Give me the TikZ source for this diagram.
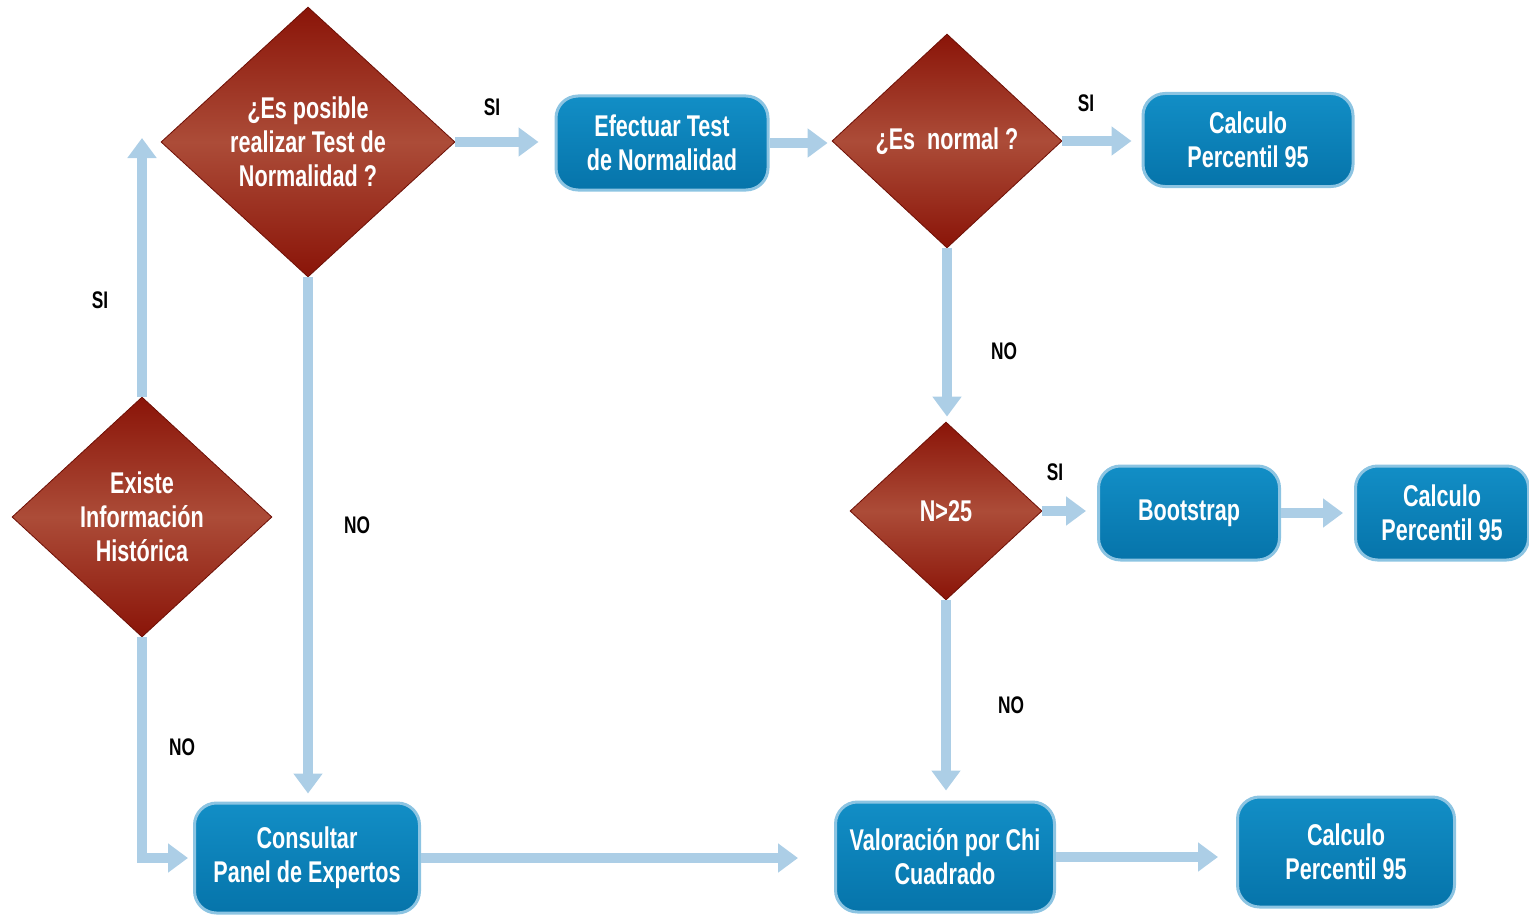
\documentclass[tikz,border=0pt]{standalone}
\usepackage{fontspec}
\setmainfont{Liberation Sans}[FakeStretch=0.72]
\usetikzlibrary{shapes.geometric,arrows.meta}

\definecolor{rojo}{RGB}{138,20,8}
\definecolor{rojoclaro}{RGB}{172,76,56}
\definecolor{azul}{RGB}{6,116,170}
\definecolor{azulclaro}{RGB}{18,142,198}
\definecolor{borde}{RGB}{140,196,226}
\definecolor{flecha}{RGB}{172,206,230}

\tikzset{
  decision/.style={diamond,draw=rojo!80!black,top color=rojo,bottom color=rojo,
    middle color=rojoclaro,text=white,align=center,inner sep=0pt,
    font=\bfseries\fontsize{15}{17}\selectfont},
  caja/.style={rectangle,rounded corners=11pt,draw=borde,line width=1.5pt,
    top color=azulclaro,bottom color=azul,text=white,align=center,
    font=\bfseries\fontsize{15}{17}\selectfont},
  flujo/.style={draw=flecha,line width=5pt,-{Triangle[width=14pt,length=10pt]}},
  etiq/.style={font=\bfseries\fontsize{12}{14}\selectfont}
}

\begin{document}
\begin{tikzpicture}[x=0.5pt,y=-0.5pt]
\useasboundingbox (0,0) rectangle (1529,915);

% decisiones
\node[decision,minimum width=130pt,minimum height=120pt] (hist) at (142,517) {Existe\\Información\\Histórica};
\node[decision,minimum width=147pt,minimum height=135pt] (posible) at (308,142) {¿Es posible\\realizar Test de\\Normalidad ?};
\node[decision,minimum width=115pt,minimum height=107pt] (normal) at (947,141) {¿Es~ normal ?};
\node[decision,minimum width=96pt,minimum height=89pt] (n25) at (946,511) {N>25};

% cajas
\node[caja,minimum width=106pt,minimum height=47pt] (test) at (662,143) {Efectuar Test\\de Normalidad};
\node[caja,minimum width=105pt,minimum height=46.5pt] (perc1) at (1248,140) {Calculo\\Percentil 95};
\node[caja,minimum width=90.5pt,minimum height=47pt] (boot) at (1189,513) {Bootstrap};
\node[caja,minimum width=86.5pt,minimum height=47pt] (perc2) at (1442,513) {Calculo\\Percentil 95};
\node[caja,minimum width=112.5pt,minimum height=55pt] (panel) at (307,858) {Consultar\\Panel de Expertos};
\node[caja,minimum width=109.5pt,minimum height=55pt] (chi) at (945,857) {Valoración por Chi\\Cuadrado};
\node[caja,minimum width=108.5pt,minimum height=55pt] (perc3) at (1346,852) {Calculo\\Percentil 95};

\coordinate (arriba) at (142,138);

% flechas
\draw[flujo] (hist.north) -- (arriba);
\draw[flujo,shorten >=8pt] (posible.east) -- (posible.east -| test.west);
\draw[flujo,shorten >=2pt] (test.east) -- (test.east -| normal.west);
\draw[flujo,shorten >=5pt] (normal.east) -- (normal.east -| perc1.west);
\draw[flujo,shorten >=2.5pt] (normal.south) -- (normal.south |- n25.north);
\draw[flujo,shorten >=5.5pt] (n25.east) -- (n25.east -| boot.west);
\draw[flujo,shorten >=5.5pt] (boot.east) -- (boot.east -| perc2.west);
\draw[flujo,shorten >=5pt] (n25.south) -- (n25.south |- chi.north);
\draw[flujo,shorten >=9pt] (chi.east) -- (chi.east -| perc3.west);
\draw[flujo,shorten >=18pt] (panel.east) -- (panel.east -| chi.west);
\draw[flujo,shorten >=4pt] (posible.south) -- (posible.south |- panel.north);
\draw[flujo,shorten >=2.5pt] (hist.south) |- (panel.west);

% etiquetas
\node[etiq] (si1) at (100,300) {SI};
\node[etiq] (si2) at (492,107) {SI};
\node[etiq] (si3) at (1086,103) {SI};
\node[etiq] (si4) at (1055,472) {SI};
\node[etiq] (no1) at (182,747) {NO};
\node[etiq] (no2) at (357,525) {NO};
\node[etiq] (no3) at (1004,351) {NO};
\node[etiq] (no4) at (1011,705) {NO};
\end{tikzpicture}
\end{document}
